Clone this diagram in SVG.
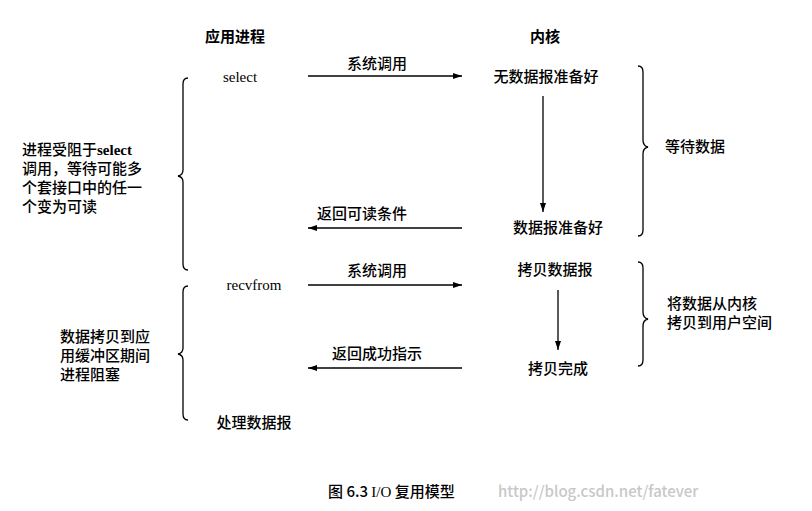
<svg xmlns="http://www.w3.org/2000/svg" width="812" height="511" viewBox="0 0 812 511">
<defs>
<marker id="ah" markerWidth="10" markerHeight="8" refX="9" refY="4" orient="auto" markerUnits="userSpaceOnUse"><path d="M0,1 L9,4 L0,7 Z" fill="#000"/></marker>
</defs>
<style>
text{font-family:"Noto Sans CJK SC","Liberation Serif",serif;fill:#000;font-size:15px;font-weight:500}
.b{font-weight:bold}
.s{font-family:"Liberation Serif","Noto Sans CJK SC",serif}
.ln{stroke:#000;stroke-width:1.3;fill:none}
</style>
<rect width="812" height="511" fill="#fff"/>
<g id="headers">
<text x="235" y="42" text-anchor="middle" class="b">应用进程</text>
<text x="545" y="42" text-anchor="middle" class="b">内核</text>
</g>
<g id="app">
<text x="240" y="82" text-anchor="middle" class="s" font-size="14">select</text>
<text x="254" y="290" text-anchor="middle" class="s" font-size="14">recvfrom</text>
<text x="254" y="428" text-anchor="middle">处理数据报</text>
</g>
<g id="kernel">
<text x="546" y="82" text-anchor="middle">无数据报准备好</text>
<text x="558" y="233" text-anchor="middle">数据报准备好</text>
<text x="555" y="275" text-anchor="middle">拷贝数据报</text>
<text x="558" y="374" text-anchor="middle">拷贝完成</text>
</g>
<g id="notes">
<text x="22" y="155">进程受阻于<tspan class="s" font-weight="bold">select</tspan></text>
<text x="22" y="174">调用，等待可能多</text>
<text x="22" y="193">个套接口中的任一</text>
<text x="22" y="212">个变为可读</text>
<text x="60" y="342">数据拷贝到应</text>
<text x="60" y="361">用缓冲区期间</text>
<text x="60" y="380">进程阻塞</text>
<text x="665" y="152">等待数据</text>
<text x="667" y="309">将数据从内核</text>
<text x="667" y="328">拷贝到用户空间</text>
</g>
<g id="connectors">
<path class="ln" d="M308,76 H462" marker-end="url(#ah)"/>
<text x="377" y="69" text-anchor="middle">系统调用</text>
<path class="ln" d="M462,228 H308" marker-end="url(#ah)"/>
<text x="362" y="219" text-anchor="middle">返回可读条件</text>
<path class="ln" d="M308,285 H462" marker-end="url(#ah)"/>
<text x="377" y="276" text-anchor="middle">系统调用</text>
<path class="ln" d="M462,368 H308" marker-end="url(#ah)"/>
<text x="377" y="359" text-anchor="middle">返回成功指示</text>
<path class="ln" d="M543,96 V212" marker-end="url(#ah)"/>
<path class="ln" d="M558,290 V350" marker-end="url(#ah)"/>
<path class="ln" d="M188,78 Q183,78 183,84 V170 Q183,175 178,176 Q183,177 183,182 V264 Q183,270 188,270"/>
<path class="ln" d="M188,286 Q183,286 183,292 V348 Q183,353 178,354 Q183,355 183,360 V414 Q183,420 188,420"/>
<path class="ln" d="M638,66 Q643,66 643,72 V140 Q643,146 648,147 Q643,148 643,154 V230 Q643,236 638,236"/>
<path class="ln" d="M638,262 Q643,262 643,268 V312 Q643,318 648,319 Q643,320 643,326 V360 Q643,366 638,366"/>
</g>
<g id="caption">
<text x="328" y="497" font-size="14">图 6.3  <tspan class="s">I/O</tspan> 复用模型</text>
<text x="498" y="497" font-size="14" style="fill:#c8c8c8" font-family="Liberation Mono,monospace">http://blog.csdn.net/fatever</text>
</g>
</svg>
